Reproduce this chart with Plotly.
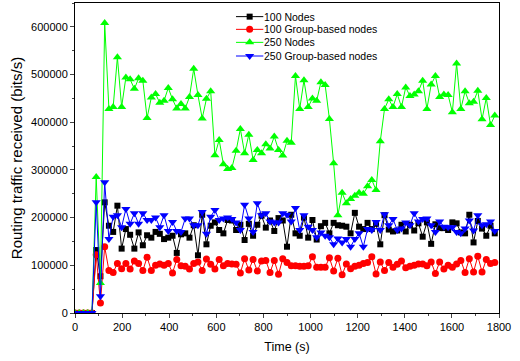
import plotly.graph_objects as go

time_s = [18 * i for i in range(100)]

nodes_100 = [0, 0, 0, 0, 0, 132000, 77000, 232000,
    183000, 170000, 225000, 135000, 176000, 164000, 135000, 169000, 142000, 163000,
    158000, 170000, 166000, 155000, 158000, 162000, 126000, 165000, 167000, 158000,
    184000, 121000, 206000, 144000, 183000, 190000, 174000, 167000, 195000, 194000,
    174000, 185000, 153000, 187000, 162000, 185000, 204000, 179000, 194000, 172000,
    199000, 194000,
    139000, 206000, 167000, 162000, 200000, 158000, 195000, 154000, 182000, 189000,
    167000, 189000, 184000, 183000, 181000, 167000, 210000, 181000, 176000, 189000,
    176000, 187000, 144000, 205000, 175000, 171000, 173000, 185000, 171000, 185000,
    173000, 188000, 160000, 190000, 145000, 186000, 178000, 178000, 174000, 190000,
    188000, 169000, 167000, 206000, 148000, 193000, 177000, 162000, 183000, 167000]

group_100 = [0, 0, 0, 0, 0, 122000, 21000, 139000,
    89000, 85000, 104000, 93000, 104000, 92000, 109000, 104000, 89000, 117000,
    89000, 100000, 103000, 100000, 104000, 84000, 112000, 99000, 98000, 92000,
    104000, 107000, 89000, 113000, 102000, 92000, 112000, 99000, 104000, 103000,
    102000, 84000, 114000, 90000, 112000, 88000, 109000, 110000, 85000, 110000,
    81000, 114000,
    106000, 99000, 99000, 98000, 98000, 99000, 118000, 96000, 96000, 96000,
    116000, 88000, 115000, 80000, 103000, 93000, 98000, 100000, 104000, 106000,
    118000, 82000, 107000, 89000, 106000, 96000, 102000, 109000, 95000, 98000,
    100000, 103000, 103000, 99000, 107000, 83000, 107000, 92000, 100000, 96000,
    103000, 110000, 85000, 114000, 86000, 119000, 86000, 112000, 104000, 106000]

nodes_250 = [0, 0, 0, 0, 0, 285000, 63000, 608000,
    428000, 432000, 536000, 432000, 494000, 490000, 470000, 492000, 487000, 409000,
    452000, 459000, 441000, 445000, 472000, 448000, 429000, 438000, 429000, 453000,
    512000, 457000, 408000, 449000, 465000, 331000, 363000, 312000, 302000, 304000,
    340000, 386000, 335000, 374000, 321000, 342000, 335000, 354000, 345000, 370000,
    342000, 330000,
    361000, 357000, 497000, 428000, 488000, 432000, 450000, 445000, 484000, 478000,
    407000, 314000, 205000, 252000, 230000, 239000, 246000, 252000, 250000, 266000,
    279000, 258000, 360000, 428000, 448000, 432000, 459000, 432000, 473000, 455000,
    458000, 465000, 487000, 428000, 479000, 497000, 453000, 458000, 457000, 421000,
    523000, 428000, 465000, 440000, 443000, 466000, 406000, 451000, 394000, 414000]

group_250 = [0, 0, 0, 0, 0, 232000, 35000, 274000,
    155000, 202000, 205000, 180000, 218000, 187000, 209000, 187000, 209000, 195000,
    195000, 200000, 180000, 205000, 172000, 191000, 172000, 170000, 198000, 198000,
    184000, 184000, 212000, 166000, 202000, 216000, 195000, 198000, 200000, 197000,
    190000, 174000, 227000, 198000, 170000, 230000, 205000, 209000, 192000, 190000,
    190000, 209000,
    206000, 192000, 220000, 174000, 205000, 181000, 174000, 159000, 169000, 162000,
    159000, 144000, 156000, 148000, 155000, 139000, 155000, 167000, 139000, 176000,
    174000, 191000, 174000, 207000, 184000, 197000, 174000, 177000, 190000, 184000,
    209000, 192000, 197000, 198000, 184000, 170000, 192000, 181000, 180000, 180000,
    170000, 167000, 177000, 194000, 173000, 205000, 184000, 186000, 192000, 172000]

x_ticks = list(range(0, 1801, 200))
y_ticks = list(range(0, 600001, 100000))

series_names = ["100 Nodes", "100 Group-based nodes", "250 Nodes", "250 Group-based nodes"]
series_values = [nodes_100, group_100, nodes_250, group_250]
series_colors = ["#000000", "#FF0000", "#00FF00", "#0000FF"]
series_symbols = ["square", "circle", "triangle-up", "triangle-down"]
series_sizes = [6, 7, 8, 8]

fig = go.Figure()
for name, vals, col, sym, sz in zip(series_names, series_values, series_colors,
                                    series_symbols, series_sizes):
    fig.add_trace(go.Scatter(
        x=time_s, y=vals, name=name, mode="lines+markers",
        line=dict(color=col, width=1),
        marker=dict(symbol=sym, size=sz, color=col, line=dict(width=0)),
        showlegend=False,
    ))

# compact legend drawn on an invisible overlay axis (0..1 in both directions)
leg_x0, leg_x1, leg_text_x = 0.3797, 0.4441, 0.4405
leg_rows = [0.956, 0.915, 0.873, 0.829]
annotations = []
for name, col, sym, sz, yk in zip(series_names, series_colors, series_symbols,
                                  series_sizes, leg_rows):
    fig.add_trace(go.Scatter(
        x=[leg_x0, leg_x1], y=[yk, yk], mode="lines", xaxis="x2", yaxis="y2",
        line=dict(color=col, width=1), showlegend=False, hoverinfo="skip"))
    fig.add_trace(go.Scatter(
        x=[(leg_x0 + leg_x1) / 2], y=[yk], mode="markers", xaxis="x2", yaxis="y2",
        marker=dict(symbol=sym, size=sz, color=col, line=dict(width=0)),
        showlegend=False, hoverinfo="skip"))
    annotations.append(dict(x=leg_text_x, y=yk, xref="x2", yref="y2", text=name,
                            showarrow=False, xanchor="left", yanchor="middle",
                            font=dict(size=10.5, color="#000000")))

font_family = "Liberation Sans, Arial, sans-serif"
fig.update_layout(
    width=520, height=361,
    margin=dict(l=75, r=21, t=3, b=48),
    paper_bgcolor="white", plot_bgcolor="white",
    font=dict(family=font_family, size=11, color="#000000"),
    showlegend=False,
    annotations=annotations,
    xaxis=dict(range=[0, 1800], tickvals=x_ticks, ticks="outside", ticklen=4,
               showline=True, linecolor="#000000", linewidth=1, mirror=True,
               showgrid=False, zeroline=False,
               minor=dict(ticks="outside", ticklen=2, dtick=100, tick0=0, showgrid=False),
               title=dict(text="Time (s)", font=dict(size=12.5), standoff=10)),
    yaxis=dict(range=[0, 650000], tickvals=y_ticks, tickformat="d", ticks="outside", ticklen=4,
               showline=True, linecolor="#000000", linewidth=1, mirror=True,
               showgrid=False, zeroline=False,
               minor=dict(ticks="outside", ticklen=2, dtick=50000, tick0=0, showgrid=False),
               title=dict(text="Routing traffic received (bits/s)", font=dict(size=15), standoff=4)),
    xaxis2=dict(overlaying="x", anchor="y2", range=[0, 1], visible=False, fixedrange=True),
    yaxis2=dict(overlaying="y", anchor="x2", range=[0, 1], visible=False, fixedrange=True),
)

fig.write_html("out.html")
